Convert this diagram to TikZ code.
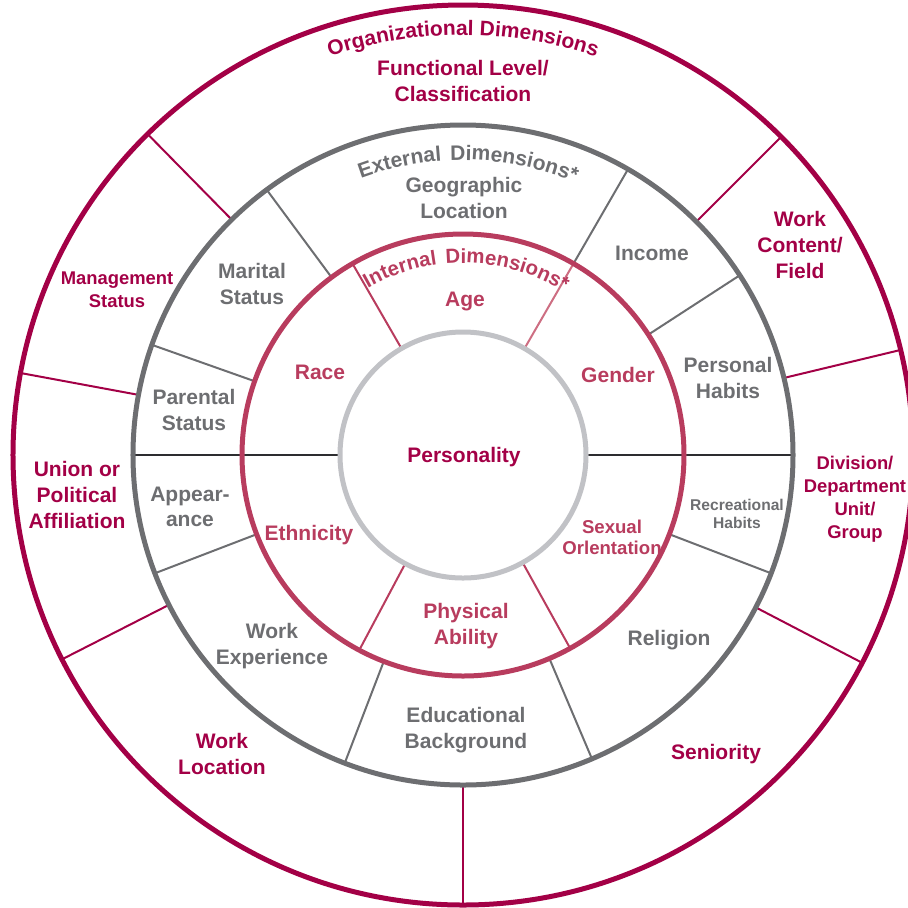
\documentclass[tikz,border=0pt]{standalone}
\usepackage{fontspec}
\setmainfont{Liberation Sans}
\usepackage{xcolor}
\usepackage{tikz}
\usetikzlibrary{decorations.text}

\definecolor{orgred}{RGB}{163,0,70}
\definecolor{intred}{RGB}{184,60,94}
\definecolor{intpink}{RGB}{205,110,130}
\definecolor{extgray}{RGB}{109,110,113}
\definecolor{pgray}{RGB}{193,194,198}
\definecolor{midline}{RGB}{45,45,48}

\tikzset{
  lbl/.style={font=\bfseries\fontsize{10.5}{12.8}\selectfont, align=center, inner sep=0pt},
  orglbl/.style={lbl, text=orgred},
  extlbl/.style={lbl, text=extgray},
  intlbl/.style={lbl, text=intred},
  orgline/.style={draw=orgred, line width=1pt},
  extline/.style={draw=extgray, line width=1pt},
  intline/.style={draw=intred, line width=1pt},
  ring/.style={line width=2.5pt}
}

\begin{document}
\begin{tikzpicture}[x=0.5pt,y=0.5pt]
				\useasboundingbox (-463,-452) rectangle (445,455);
				\clip (-463,-452) rectangle (445,455);
				
				% dividers of the outer ring
				\draw [orgline] (134.5:330) -- (134.5:450);
				\draw [orgline] (45:330) -- (45:450);
				\draw [orgline] (13.5:330) -- (13.5:450);
				\draw [orgline] (169.5:330) -- (169.5:450);
				\draw [orgline] (207:330) -- (207:450);
				\draw [orgline] (-27.5:330) -- (-27.5:450);
				\draw [orgline] (270:330) -- (270:450);
				
				% dividers of the external ring
				\draw [extline] (126.5:221) -- (126.5:330);
				\draw [extline] (60:221) -- (60:330);
				\draw [extline] (33:221) -- (33:330);
				\draw [extline] (160.5:221) -- (160.5:330);
				\draw [extline] (-21:221) -- (-21:330);
				\draw [extline] (201:221) -- (201:330);
				\draw [extline] (249:221) -- (249:330);
				\draw [extline] (293:221) -- (293:330);
				
				% dividers of the internal ring
				\draw [intline] (120:123) -- (120:221);
				\draw [intline, draw=intpink] (60:123) -- (60:221);
				\draw [intline] (242:123) -- (242:221);
				\draw [intline] (-61:123) -- (-61:221);
				
				\draw [draw=midline, line width=1.4pt] (180:123) -- (180:330);
				\draw [draw=midline, line width=1.4pt] (0:123) -- (0:330);
				
				\draw [ring, orgred] (0,0) circle [radius=450];
				\draw [ring, extgray] (0,0) circle [radius=330];
				\draw [ring, intred] (0,0) circle [radius=221];
				\draw [ring, pgray] (0,0) circle [radius=123];
				
				% ring titles
				\path [decorate, decoration={text along path, text align=center,
				  text={|\bfseries\fontsize{10.5}{12}\selectfont\color{orgred}|Organizational Dimensions}}]
				  (115:420) arc [start angle=115, end angle=65, radius=420];
				\path [decorate, decoration={text along path, text align=center,
				  text={|\bfseries\fontsize{10.5}{12}\selectfont\color{extgray}|External {\kern1.5pt}Dimensions*}}]
				  (120:295) arc [start angle=120, end angle=58, radius=295];
				\path [decorate, decoration={text along path, text align=center,
				  text={|\bfseries\fontsize{10.2}{12}\selectfont\color{intred}|Internal {\kern1.5pt}Dimensions*}}]
				  (128:192) arc [start angle=128, end angle=50, radius=192];
				
				\node [orglbl] (funclevel) at (0,374) {Functional Level/\\Classification};
				\node [orglbl] (workcontent) at (337,210) {Work\\Content/\\Field};
				\node [orglbl, font=\bfseries\fontsize{9.2}{11.5}\selectfont] (mgmt) at (-346,165) {Management\\Status};
				\node [orglbl, font=\bfseries\fontsize{9.2}{11.5}\selectfont] (division) at (392,-44) {Division/\\Department\\Unit/\\Group};
				\node [orglbl] (union) at (-386,-40) {Union or\\Political\\Affiliation};
				\node [orglbl] (worklocation) at (-241,-299) {Work\\Location};
				\node [orglbl] (seniority) at (253,-299) {Seniority};
				
				\node [extlbl] (geo) at (1,257) {Geographic\\Location};
				\node [extlbl] (marital) at (-211,171) {Marital\\Status};
				\node [extlbl] (income) at (189,202) {Income};
				\node [extlbl] (habits) at (265,77) {Personal\\Habits};
				\node [extlbl] (parental) at (-269,45) {Parental\\Status};
				\node [extlbl] (appearance) at (-273,-52) {Appear-\\ance};
				\node [extlbl, font=\bfseries\fontsize{7.8}{9}\selectfont] (recreation) at (274,-59) {Recreational\\Habits};
				\node [extlbl] (religion) at (206,-185) {Religion};
				\node [extlbl] (workexp) at (-191,-191) {Work\\Experience};
				\node [extlbl] (education) at (3,-275) {Educational\\Background};
				
				\node [intlbl] (age) at (2,154) {Age};
				\node [intlbl] (race) at (-143,83) {Race};
				\node [intlbl] (gender) at (155,80) {Gender};
				\node [intlbl] (ethnicity) at (-154,-80) {Ethnicity};
				\node [intlbl, font=\bfseries\fontsize{9.3}{10.5}\selectfont] (orientation) at (149,-82) {Sexual\\Orlentation};
				\node [intlbl] (ability) at (3,-171) {Physical\\Ability};
				
				\node [orglbl] (personality) at (1,-2) {Personality};
\end{tikzpicture}
\end{document}
